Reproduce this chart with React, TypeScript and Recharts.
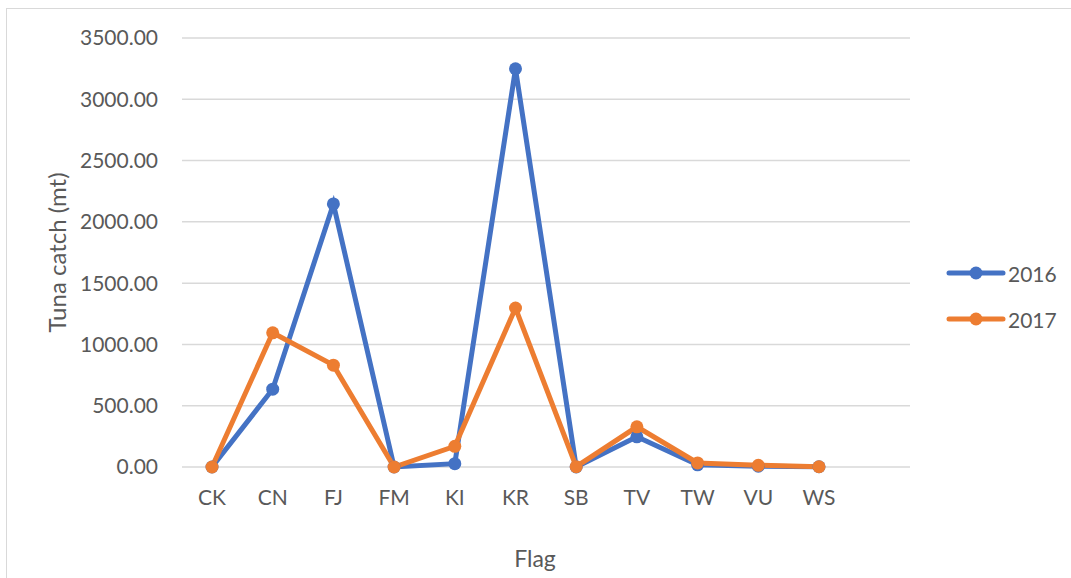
import React from "react";
import {
  LineChart,
  Line,
  XAxis,
  YAxis,
  CartesianGrid,
  Label,
} from "recharts";

// Tuna catch (mt) by flag, 2016 vs 2017
const flags = ["CK", "CN", "FJ", "FM", "KI", "KR", "SB", "TV", "TW", "VU", "WS"];
const catch2016 = [0, 635, 2146, 0, 27, 3249, 0, 246, 18, 6, 2];
const catch2017 = [0, 1095, 831, 0, 169, 1297, 3, 328, 33, 14, 2];
const yTicks = [0, 500, 1000, 1500, 2000, 2500, 3000, 3500];

const series = [
  { key: "y2016", name: "2016", color: "#4472C4", values: catch2016 },
  { key: "y2017", name: "2017", color: "#ED7D31", values: catch2017 },
];

const data = flags.map((flag, i) => ({
  flag,
  y2016: catch2016[i],
  y2017: catch2017[i],
}));

const FONT = "Lato, 'Liberation Sans', sans-serif";
const TEXT = "#595959";

function LegendBox() {
  return (
    <div
      style={{
        position: "absolute",
        left: 946,
        top: 250,
        fontFamily: FONT,
      }}
    >
      {series.map((s) => (
        <div
          key={s.key}
          style={{ display: "flex", alignItems: "center", height: 46 }}
        >
          <svg width={60} height={16} style={{ display: "block" }}>
            <line
              x1={3}
              y1={8}
              x2={57}
              y2={8}
              stroke={s.color}
              strokeWidth={5}
              strokeLinecap="round"
            />
            <circle cx={30} cy={8} r={6.5} fill={s.color} />
          </svg>
          <span style={{ fontSize: 21, color: TEXT, marginLeft: 2 }}>
            {s.name}
          </span>
        </div>
      ))}
    </div>
  );
}

export default function App() {
  return (
    <div
      style={{
        position: "absolute",
        left: 0,
        top: 0,
        width: 1071,
        height: 578,
        background: "#fff",
        overflow: "hidden",
      }}
    >
      <div
        style={{
          position: "absolute",
          left: 6,
          top: 8,
          width: 1080,
          height: 600,
          borderLeft: "1.5px solid #D9D9D9",
          borderTop: "1.5px solid #D9D9D9",
        }}
      />
      <LineChart
        width={1071}
        height={578}
        data={data}
        margin={{ top: 38, right: 161, bottom: 0, left: 0 }}
        style={{ position: "absolute", left: 0, top: 0 }}
      >
        <CartesianGrid vertical={false} stroke="#D9D9D9" strokeWidth={1.5} />
        <XAxis
          dataKey="flag"
          height={111}
          axisLine={false}
          tickLine={false}
          tickSize={0}
          tickMargin={23}
          padding={{ left: 30, right: 91 }}
          interval={0}
          tick={{ fill: TEXT, fontSize: 21, fontFamily: FONT }}
        >
          <Label
            value="Flag"
            position="insideBottom"
            offset={11}
            dx={-11}
            style={{ fill: TEXT, fontSize: 23, fontFamily: FONT }}
          />
        </XAxis>
        <YAxis
          width={182}
          domain={[0, 3500]}
          ticks={yTicks}
          axisLine={false}
          tickLine={false}
          tickSize={0}
          tickMargin={24}
          tickFormatter={(v: number) => v.toFixed(2)}
          tick={{ fill: TEXT, fontSize: 21, fontFamily: FONT }}
        >
          <Label
            value="Tuna catch (mt)"
            angle={-90}
            position="insideLeft"
            offset={57}
            style={{
              fill: TEXT,
              fontSize: 24,
              fontFamily: FONT,
              textAnchor: "middle",
            }}
          />
        </YAxis>
        {series.map((s) => (
          <Line
            key={s.key}
            type="linear"
            dataKey={s.key}
            name={s.name}
            stroke={s.color}
            strokeWidth={5}
            dot={{ r: 6.5, fill: s.color, stroke: s.color, strokeWidth: 0 }}
            activeDot={false}
            isAnimationActive={false}
          />
        ))}
      </LineChart>
      <LegendBox />
    </div>
  );
}
